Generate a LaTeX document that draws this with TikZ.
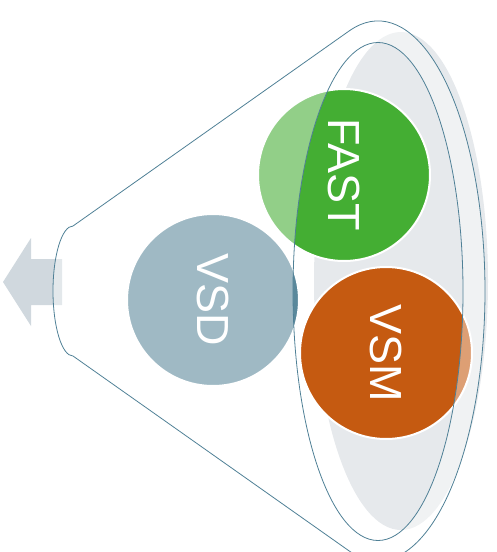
\documentclass[tikz,border=0pt]{standalone}
\usepackage{fontspec}
\setmainfont{Liberation Sans}
\usetikzlibrary{positioning}
\definecolor{fastgreen}{HTML}{44AE33}
\definecolor{vsdblue}{HTML}{5A889B}
\definecolor{vsmorange}{HTML}{C55A11}
\definecolor{funnelgrey}{HTML}{E6E9EC}
\definecolor{arrowgrey}{HTML}{D0D8DE}
\definecolor{rimline}{HTML}{4F8096}
\tikzset{
bubble/.style={
  circle,
  fill=#1,
  draw=white,
  line width=2pt,
  minimum size=172pt,
  inner sep=0pt,
  rotate=-90,
  text=white,
  font=\fontsize{45}{54}\selectfont
  },
rim/.style={
  draw=rimline,
  line width=0.8pt
  }
}

\begin{document}
\begin{tikzpicture}[x=1pt,y=1pt]
\useasboundingbox (0,0) rectangle (496,-552);
\fill[funnelgrey] (401,-281) ellipse [x radius=87,y radius=249];
\fill[arrowgrey]
  (3,-282) -- (31,-238) -- (31,-259) -- (62,-259)
  -- (62,-305) -- (31,-305) -- (31,-326) -- cycle;

\node[bubble=vsdblue] at (213,-300)
  (vsd) {VSD};
\node[bubble=fastgreen] at (344,-175)
  (fast) {FAST};
\node[bubble=vsmorange] at (386,-353)
  (vsm) {VSM};

\coordinate (neck) at (73,-226);
\coordinate (lip) at (349.2,-30.9);
\coordinate (chin) at (73,-356);
\coordinate (mouth) at (378,-291.5);

\filldraw[rim,fill=white,fill opacity=0.42,even odd rule]
  (neck) -- (lip)
    arc[start angle=105.6,end angle=-105.6,x radius=107,y radius=270]
  -- (chin)
    arc[start angle=270,end angle=90,x radius=20,y radius=65]
  -- cycle
  (mouth) ellipse [x radius=85,y radius=249];
\end{tikzpicture}
\end{document}
